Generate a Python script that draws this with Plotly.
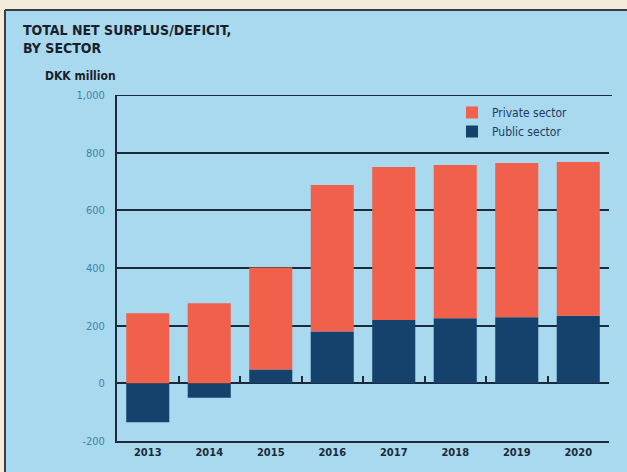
import plotly.graph_objects as go

years = ["2013", "2014", "2015", "2016", "2017", "2018", "2019", "2020"]
public_sector = [-135, -50, 48, 180, 220, 226, 229, 234]
private_sector = [243, 278, 354, 508, 530, 531, 535, 534]
y_tickvals = [-200, 0, 200, 400, 600, 800, 1000]
y_ticktext = ["-200", "0", "200", "400", "600", "800", "1,000"]
boundary_ticks = [0.5, 1.5, 2.5, 3.5, 4.5, 5.5, 6.5, 7.5]

W, H = 627, 472
L, R, T, B = 117, 609, 95, 441


def px_x(px):
    return (px - L) / (R - L)


def px_y(py):
    return (B - py) / (B - T)


PRIVATE = "#f0604a"
PUBLIC = "#15426d"
BLUE_BG = "#a9d9ef"
BEIGE = "#f5ebdb"
DARK = "#1b2a3a"
FONT = "Liberation Sans Narrow, DejaVu Sans Condensed, Roboto, sans-serif"

fig = go.Figure()
fig.add_trace(go.Bar(x=years, y=public_sector, name="Public sector",
                     marker=dict(color=PUBLIC, line=dict(width=0)), width=0.7))
fig.add_trace(go.Bar(x=years, y=private_sector, name="Private sector",
                     marker=dict(color=PRIVATE, line=dict(width=0)), width=0.7))

fig.update_layout(
    width=W, height=H,
    margin=dict(l=L, r=W - R, t=T, b=H - B, pad=0),
    barmode="relative",
    paper_bgcolor=BLUE_BG,
    plot_bgcolor="rgba(0,0,0,0)",
    font=dict(family=FONT, color=DARK),
    showlegend=True,
    legend=dict(x=px_x(452), y=px_y(98), xanchor="left", yanchor="top",
                traceorder="reversed", bgcolor="rgba(0,0,0,0)",
                font=dict(size=12, color="#1d3b63", family=FONT),
                itemwidth=30, tracegroupgap=0),
    xaxis=dict(type="category", range=[-0.5, 7.5], showgrid=False,
               showline=True, linecolor=DARK, linewidth=2, ticks="",
               tickfont=dict(size=11, color=DARK, family=FONT, weight="bold"),
               zeroline=False),
    xaxis2=dict(overlaying="x", anchor="free", position=1 / 6, range=[-0.5, 7.5],
                type="linear", tickvals=boundary_ticks, ticks="inside",
                ticklen=7, tickwidth=2, tickcolor=DARK, showticklabels=False,
                showgrid=False, showline=False, zeroline=False, visible=True),
    yaxis=dict(range=[-200, 1000], tickvals=y_tickvals, ticktext=y_ticktext,
               showgrid=True, gridcolor=DARK, gridwidth=2,
               zeroline=True, zerolinecolor=DARK, zerolinewidth=2,
               showline=True, linecolor=DARK, linewidth=2, ticks="",
               ticklabelstandoff=8,
               tickfont=dict(size=11, color="#3f84a6", family=FONT)),
    shapes=[
        dict(type="rect", xref="paper", yref="paper", layer="below",
             x0=px_x(0), x1=px_x(5), y0=px_y(0), y1=px_y(H),
             fillcolor=BEIGE, line=dict(width=0)),
        dict(type="rect", xref="paper", yref="paper", layer="below",
             x0=px_x(0), x1=px_x(W), y0=px_y(0), y1=px_y(10),
             fillcolor=BEIGE, line=dict(width=0)),
        dict(type="line", xref="paper", yref="paper", layer="below",
             x0=px_x(5), x1=px_x(W), y0=px_y(10), y1=px_y(10),
             line=dict(color="#3a3d44", width=2)),
        dict(type="line", xref="paper", yref="paper", layer="below",
             x0=px_x(5), x1=px_x(5), y0=px_y(10), y1=px_y(H),
             line=dict(color="#3a3d44", width=2)),
        dict(type="line", xref="paper", yref="y", layer="below",
             x0=0, x1=px_x(612), y0=1000, y1=1000,
             line=dict(color=DARK, width=2)),
    ],
    annotations=[
        dict(text="<b>TOTAL NET SURPLUS/DEFICIT,<br>BY SECTOR</b>", xref="paper", yref="paper",
             x=px_x(21), y=px_y(20), xanchor="left", yanchor="top", align="left",
             showarrow=False, font=dict(size=14, color="#1a1f2b", family=FONT)),
        dict(text="<b>DKK million</b>", xref="paper", yref="paper",
             x=px_x(43), y=px_y(67), xanchor="left", yanchor="top", align="left",
             showarrow=False, font=dict(size=12, color="#1a1f2b", family=FONT)),
    ],
)
fig.add_trace(go.Scatter(x=[None], y=[None], xaxis="x2", showlegend=False,
                         hoverinfo="skip"))

fig.write_html(
    "out.html",
    config={"displayModeBar": False},
    post_script="document.body.style.margin='0';document.body.style.overflow='hidden';"
                "document.documentElement.style.overflow='hidden';",
)
